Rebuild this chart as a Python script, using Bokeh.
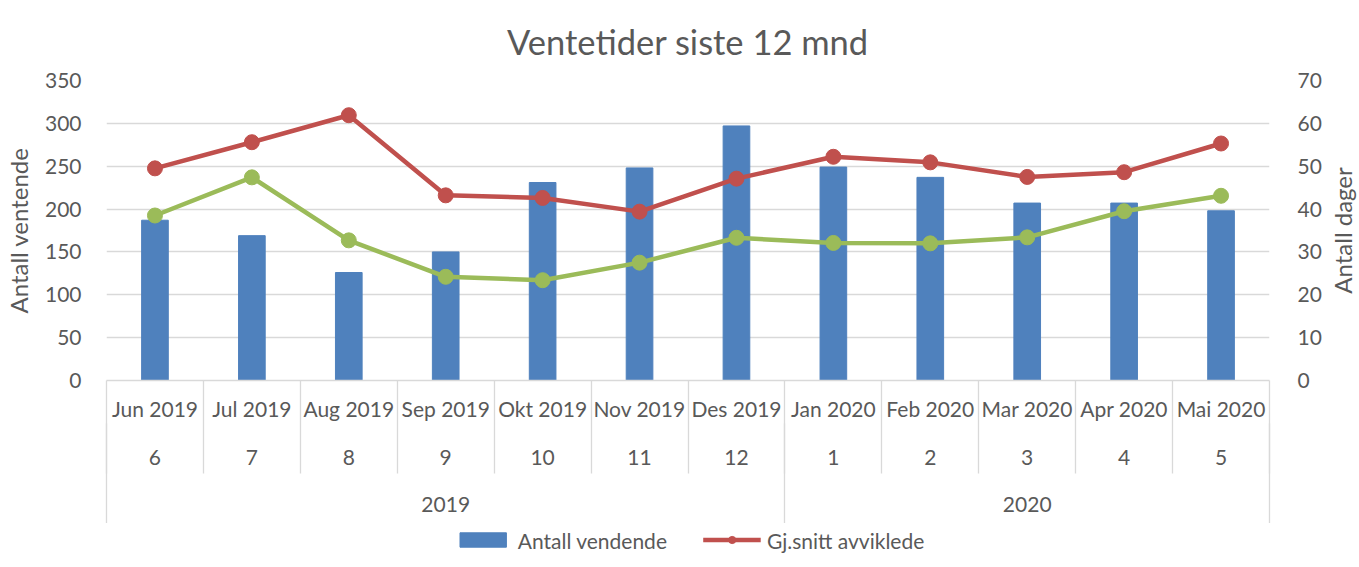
from bokeh.plotting import figure
from bokeh.layouts import column, row
from bokeh.models import (Range1d, LinearAxis, FixedTicker, SingleIntervalTicker,
                          Legend, LegendItem, ColumnDataSource)
from bokeh.embed import file_html
from bokeh.resources import INLINE

# ---------------- data ----------------
months = ["Jun 2019", "Jul 2019", "Aug 2019", "Sep 2019", "Okt 2019", "Nov 2019",
          "Des 2019", "Jan 2020", "Feb 2020", "Mar 2020", "Apr 2020", "Mai 2020"]
month_numbers = ["6", "7", "8", "9", "10", "11", "12", "1", "2", "3", "4", "5"]
years = ["2019", "2020"]
months_per_year = [7, 5]

antall_vendende = [187, 169, 126, 150, 231, 248, 297, 249, 237, 207, 207, 198]
gj_snitt_avviklede = [49.5, 55.6, 61.9, 43.2, 42.6, 39.4, 47.1, 52.2, 50.9, 47.5, 48.6, 55.3]
gj_snitt_ventende = [38.5, 47.4, 32.7, 24.2, 23.4, 27.5, 33.3, 32.1, 32.0, 33.4, 39.5, 43.1]

# ---------------- styling ----------------
FONT = "Lato"
TXT = "#595959"
GRID = "#D9D9D9"
BLUE = "#4F81BD"
RED = "#C0504D"
GREEN = "#9BBB59"

n = len(months)
xs = list(range(n))
boundaries = [i - 0.5 for i in range(n + 1)]
year_bounds = [-0.5]
year_centers = []
acc = 0
for cnt in months_per_year:
    year_centers.append(acc + (cnt - 1) / 2)
    acc += cnt
    year_bounds.append(acc - 0.5)

src = ColumnDataSource(dict(x=xs, ant=antall_vendende, red=gj_snitt_avviklede,
                            green=gj_snitt_ventende))

FRAME_W = 1163
FRAME_H = 300
TOP = 80
BOTTOM = 143

p = figure(frame_width=FRAME_W, frame_height=FRAME_H, output_backend="svg",
           toolbar_location=None,
           x_range=Range1d(-0.5, n - 0.5), y_range=Range1d(0, 350),
           min_border_left=99, min_border_right=0, min_border_top=TOP,
           min_border_bottom=BOTTOM)
p.extra_y_ranges = {"days": Range1d(0, 70)}
p.outline_line_color = None
p.background_fill_color = "white"
p.border_fill_color = "white"

# title
p.title.text = "Ventetider siste 12 mnd"
p.title.text_font = FONT
p.title.text_font_size = "34.5px"
p.title.text_font_style = "normal"
p.title.text_color = TXT
p.title.align = "center"
p.title.vertical_align = "top"
p.title.standoff = 34

# grid
p.xgrid.grid_line_color = None
p.ygrid.grid_line_color = GRID
p.ygrid.grid_line_width = 1.3

# left axis
ya = p.yaxis[0]
ya.ticker = SingleIntervalTicker(interval=50)
ya.axis_line_color = None
ya.major_tick_line_color = None
ya.minor_tick_line_color = None
ya.major_tick_out = 0
ya.major_tick_in = 0
ya.minor_tick_out = 0
ya.minor_tick_in = 0
ya.major_label_standoff = 25
ya.major_label_text_font = FONT
ya.major_label_text_font_size = "21px"
ya.major_label_text_color = TXT
ya.axis_label = "Antall ventende"
ya.axis_label_text_font = FONT
ya.axis_label_text_font_size = "24px"
ya.axis_label_text_font_style = "normal"
ya.axis_label_text_color = TXT
ya.axis_label_standoff = 9

# right axis (tick labels; its title sits in the narrow strip to the right)
ra = LinearAxis(y_range_name="days", ticker=SingleIntervalTicker(interval=10))
ra.axis_line_color = None
ra.major_tick_line_color = None
ra.minor_tick_line_color = None
ra.major_tick_out = 0
ra.major_tick_in = 0
ra.minor_tick_out = 0
ra.minor_tick_in = 0
ra.major_label_standoff = 28
ra.major_label_text_font = FONT
ra.major_label_text_font_size = "21px"
ra.major_label_text_color = TXT
p.add_layout(ra, "right")

# bottom axis A: month names (+ separators via minor ticks)
SEP_A = 93
xa = p.xaxis[0]
xa.ticker = FixedTicker(ticks=xs, minor_ticks=boundaries)
xa.major_label_overrides = {i: m for i, m in zip(xs, months)}
xa.major_tick_in = 0
xa.major_tick_out = 0
xa.major_tick_line_color = None
xa.minor_tick_in = 0
xa.minor_tick_out = SEP_A
xa.minor_tick_line_color = GRID
xa.minor_tick_line_width = 1.3
xa.axis_line_color = GRID
xa.axis_line_width = 1.3
xa.major_label_standoff = 15 - SEP_A
xa.major_label_text_font = FONT
xa.major_label_text_font_size = "21px"
xa.major_label_text_color = TXT

# bottom axis B: month numbers (+ year separators)
SEP_B = 102
xb = LinearAxis(ticker=FixedTicker(ticks=xs, minor_ticks=year_bounds))
xb.major_label_overrides = {i: m for i, m in zip(xs, month_numbers)}
xb.major_tick_in = 0
xb.major_tick_out = 0
xb.major_tick_line_color = None
xb.minor_tick_in = 0
xb.minor_tick_out = SEP_B
xb.minor_tick_line_color = GRID
xb.minor_tick_line_width = 1.3
xb.axis_line_color = None
xb.major_label_standoff = 26 - SEP_B
xb.major_label_text_font = FONT
xb.major_label_text_font_size = "21px"
xb.major_label_text_color = TXT
p.add_layout(xb, "below")

# bottom axis C: years
xc = LinearAxis(ticker=FixedTicker(ticks=year_centers))
xc.major_label_overrides = {c: y for c, y in zip(year_centers, years)}
xc.major_tick_in = 0
xc.major_tick_out = 0
xc.minor_tick_in = 0
xc.minor_tick_out = 0
xc.major_tick_line_color = None
xc.minor_tick_line_color = None
xc.axis_line_color = None
xc.major_label_standoff = 29
xc.major_label_text_font = FONT
xc.major_label_text_font_size = "21px"
xc.major_label_text_color = TXT
p.add_layout(xc, "below")


def draw_series(fig, y_name):
    b = fig.vbar(x="x", top="ant", width=0.275, source=src, fill_color=BLUE,
                 line_color=BLUE)
    fig.line(x="x", y="green", source=src, y_range_name=y_name,
             line_color=GREEN, line_width=4.5)
    fig.scatter(x="x", y="green", source=src, y_range_name=y_name, size=15,
                fill_color=GREEN, line_color=GREEN)
    rl = fig.line(x="x", y="red", source=src, y_range_name=y_name,
                  line_color=RED, line_width=4.5)
    rp = fig.scatter(x="x", y="red", source=src, y_range_name=y_name, size=15,
                     fill_color=RED, line_color=RED)
    return b, rl, rp


draw_series(p, "days")

# narrow strip on the right carrying the right-hand axis title (reads bottom-to-top)
pr = figure(frame_width=1, frame_height=FRAME_H, output_backend="svg",
            toolbar_location=None, x_range=Range1d(0, 1), y_range=Range1d(0, 70),
            x_axis_type=None, min_border_left=23, min_border_right=0,
            min_border_top=TOP, min_border_bottom=0)
pr.outline_line_color = None
pr.xgrid.grid_line_color = None
pr.ygrid.grid_line_color = None
ry = pr.yaxis[0]
ry.ticker = FixedTicker(ticks=[])
ry.axis_line_color = None
ry.major_tick_line_color = None
ry.minor_tick_line_color = None
ry.major_tick_out = 0
ry.major_tick_in = 0
ry.minor_tick_out = 0
ry.minor_tick_in = 0
ry.major_label_standoff = 0
ry.axis_label = "Antall dager"
ry.axis_label_text_font = FONT
ry.axis_label_text_font_size = "24px"
ry.axis_label_text_font_style = "normal"
ry.axis_label_text_color = TXT
ry.axis_label_standoff = 0

# legend strip below the chart (its own glyphs lie outside its visible range)
pl = figure(width=1343, height=33, output_backend="svg", toolbar_location=None,
            x_range=Range1d(-0.5, n - 0.5), y_range=Range1d(1000, 1001),
            x_axis_type=None, y_axis_type=None,
            min_border_left=35, min_border_right=0, min_border_top=0,
            min_border_bottom=0)
pl.extra_y_ranges = {"days2": Range1d(1000, 1001)}
pl.outline_line_color = None
pl.xgrid.grid_line_color = None
pl.ygrid.grid_line_color = None
lb, lrl, lrp = draw_series(pl, "days2")

legend = Legend(items=[LegendItem(label="Antall vendende", renderers=[lb]),
                       LegendItem(label="Gj.snitt avviklede", renderers=[lrl, lrp])],
                orientation="horizontal", location="center")
legend.label_text_font = FONT
legend.label_text_font_size = "21px"
legend.label_text_color = TXT
legend.border_line_color = None
legend.background_fill_alpha = 0
legend.glyph_width = 58
legend.glyph_height = 18
legend.label_standoff = 6
legend.spacing = 36
legend.padding = 2
legend.margin = 0
pl.add_layout(legend, "center")

layout = column(row(p, pr, spacing=0), pl, spacing=0)
open("out.html", "w").write(file_html(layout, INLINE))
